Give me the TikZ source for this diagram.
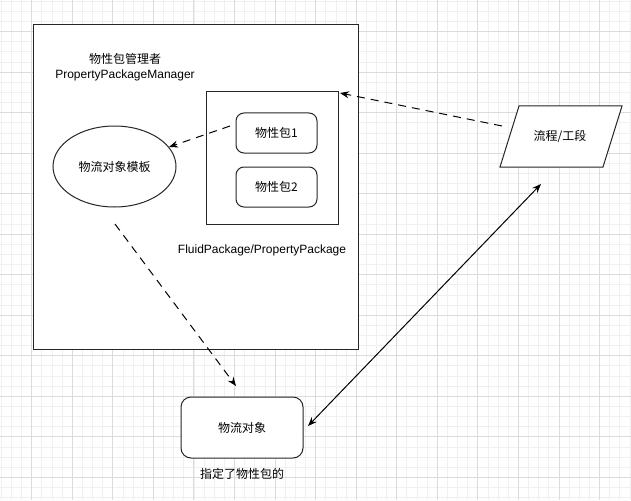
\documentclass[tikz,border=0pt]{standalone}
\usepackage{fontspec}
\setmainfont{Liberation Sans}
\newfontfamily\cjk{Noto Sans CJK SC}
\usetikzlibrary{arrows.meta,shapes.geometric}
\tikzset{
  box/.style={draw=black!85,line width=1pt,fill=white,inner sep=0pt},
  rbox/.style={box,rounded corners=8pt},
  lbl/.style={inner sep=0pt,font=\fontsize{12}{15}\selectfont,align=center},
  dline/.style={line width=1pt,dash pattern=on 8pt off 6pt,-{Stealth[length=9pt,width=7pt,inset=3pt]}},
  sline/.style={line width=1pt,{Stealth[length=9pt,width=7pt,inset=3pt]}-{Stealth[length=9pt,width=7pt,inset=3pt]}},
  minorgrid/.style={draw=black!6,line width=0.6pt},
  majorgrid/.style={draw=black!14,line width=0.7pt}
}
\begin{document}
\begin{tikzpicture}[x=1pt,y=-1pt]
\useasboundingbox[fill=white] (0,0) rectangle (631,500);
% grid
\foreach \i in {-4,...,60}{
  \pgfmathsetmacro\gx{31.6+\i*10.14}
  \draw[minorgrid] (\gx,0) -- (\gx,500);
}
\foreach \i in {-4,...,46}{
  \pgfmathsetmacro\gy{31.5+\i*10.13}
  \draw[minorgrid] (0,\gy) -- (631,\gy);
}
\foreach \i in {-1,...,15}{
  \pgfmathsetmacro\gx{31.6+\i*40.56}
  \draw[majorgrid] (\gx,0) -- (\gx,500);
}
\foreach \i in {-1,...,12}{
  \pgfmathsetmacro\gy{31.5+\i*40.52}
  \draw[majorgrid] (0,\gy) -- (631,\gy);
}
% shapes
\node[box,minimum width=325pt,minimum height=324pt] (mgr) at (195.5,187) {};
\node[lbl] (mgrlbl) at (125,67) {{\cjk 物性包管理者}\\PropertyPackageManager};
\node[box,minimum width=132pt,minimum height=132pt] (inner) at (272,158) {};
\node[rbox,minimum width=81pt,minimum height=40pt] (p1) at (276.5,133) {\fontsize{12}{15}\cjk 物性包1};
\node[rbox,minimum width=81pt,minimum height=40pt] (p2) at (276.5,187) {\fontsize{12}{15}\cjk 物性包2};
\node[lbl] (fplbl) at (262,250) {FluidPackage/PropertyPackage};
\node[box,ellipse,minimum width=123pt,minimum height=81pt] (tmpl) at (114.5,166.5) {\fontsize{12}{15}\cjk 物流对象模板};
\draw[box] (519,106) -- (622,106) -- (603,167) -- (500,167) -- cycle;
\node[lbl] (flow) at (560,136) {\cjk 流程/工段};
\node[rbox,rounded corners=10pt,minimum width=122pt,minimum height=61pt] (obj) at (242,427.5) {\fontsize{12}{15}\cjk 物流对象};
\node[lbl] (objlbl) at (242,474) {\cjk 指定了物性包的};
% connector ends
\coordinate (flowL) at (502,126);
\coordinate (innerTR) at (340,93);
\coordinate (p1L) at (230,126);
\coordinate (tmplR) at (169,147);
\coordinate (tmplB) at (115,224);
\coordinate (objT) at (236,386);
\coordinate (objR) at (308,426);
\coordinate (flowB) at (541,184);
% connectors
\draw[dline] (flowL) -- (innerTR);
\draw[dline] (p1L) -- (tmplR);
\draw[dline] (tmplB) -- (objT);
\draw[sline] (objR) -- (flowB);
\end{tikzpicture}
\end{document}
